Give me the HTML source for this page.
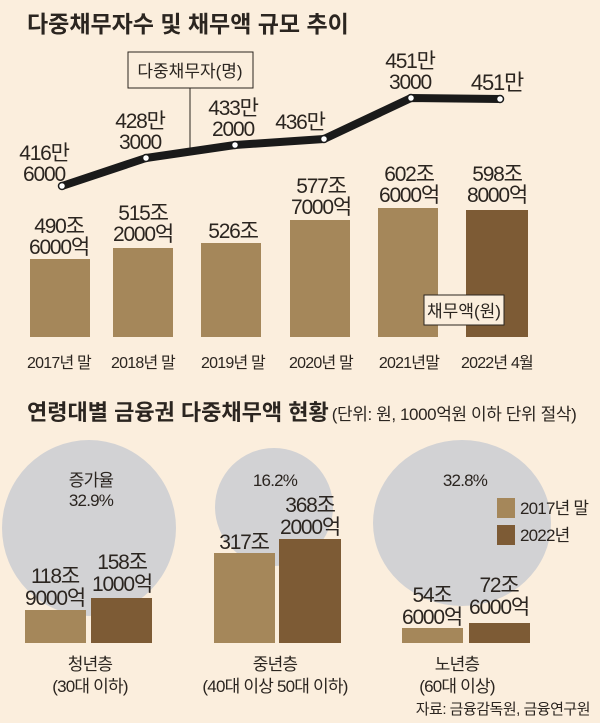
<!DOCTYPE html>
<html><head><meta charset="utf-8"><style>
body{margin:0;background:#fbeedd}
svg{display:block}
text{font-family:"Liberation Sans","Noto Sans CJK KR",sans-serif;fill:#2b2520}
</style></head><body>
<svg width="600" height="723" viewBox="0 0 600 723" xmlns="http://www.w3.org/2000/svg">
<rect width="600" height="723" fill="#fbeedd"/>
<text x="27" y="32" font-size="23" font-weight="bold">다중채무자수 및 채무액 규모 추이</text>
<g fill="#a5875a">
<rect x="30" y="259" width="60" height="78"/>
<rect x="113" y="248" width="60" height="89"/>
<rect x="201" y="243" width="60" height="94"/>
<rect x="290" y="220" width="60" height="117"/>
<rect x="378" y="208" width="60" height="129"/>
</g>
<rect x="466" y="210" width="62" height="127" fill="#7d5b35"/>
<rect x="424" y="295" width="80" height="30" fill="#fbeedd" stroke="#2b2520" stroke-width="1"/>
<text x="464" y="317" font-size="17" text-anchor="middle">채무액(원)</text>
<rect x="128" y="52" width="125" height="36" fill="#fbeedd" stroke="#2b2520" stroke-width="1"/>
<text x="190" y="77" font-size="17" text-anchor="middle">다중채무자(명)</text>
<line x1="190" y1="88" x2="190" y2="152" stroke="#2b2520" stroke-width="1"/>
<polyline points="62,186 146,158 235,145 324,139 411,98 500,99" fill="none" stroke="#1a1a1a" stroke-width="8" stroke-linejoin="round"/>
<g fill="#fff" stroke="#1a1a1a" stroke-width="1.5">
<circle cx="62" cy="186" r="3.5"/><circle cx="146" cy="158" r="3.5"/><circle cx="235" cy="145" r="3.5"/><circle cx="324" cy="139" r="3.5"/><circle cx="411" cy="98" r="3.5"/><circle cx="500" cy="99" r="3.5"/>
</g>
<g font-size="21" text-anchor="middle" letter-spacing="-1.2">
<text x="44" y="160">416만</text><text x="44" y="181">6000</text>
<text x="140" y="128">428만</text><text x="140" y="149">3000</text>
<text x="233" y="115">433만</text><text x="233" y="136">2000</text>
<text x="300" y="129">436만</text>
<text x="410" y="68">451만</text><text x="410" y="89">3000</text>
<text x="497" y="90" font-size="22">451만</text>
<text x="59" y="233">490조</text><text x="59" y="254">6000억</text>
<text x="143" y="220">515조</text><text x="143" y="241">2000억</text>
<text x="233" y="238">526조</text>
<text x="321" y="193">577조</text><text x="321" y="214">7000억</text>
<text x="409" y="181">602조</text><text x="409" y="202">6000억</text>
<text x="497" y="181">598조</text><text x="497" y="202">8000억</text>
</g>
<g font-size="16" text-anchor="middle" letter-spacing="-0.8">
<text x="59" y="368">2017년 말</text>
<text x="143" y="368">2018년 말</text>
<text x="233" y="368">2019년 말</text>
<text x="321" y="368">2020년 말</text>
<text x="409" y="368">2021년말</text>
<text x="497" y="368">2022년 4월</text>
</g>
<text x="27" y="420" font-size="22" font-weight="bold">연령대별 금융권 다중채무액 현황<tspan font-size="17" font-weight="normal" dx="3" letter-spacing="-0.4">(단위: 원, 1000억원 이하 단위 절삭)</tspan></text>
<g fill="#d2d2d4">
<ellipse cx="89" cy="528" rx="87" ry="88"/>
<ellipse cx="274" cy="507" rx="59" ry="59"/>
<ellipse cx="462" cy="523" rx="89" ry="83"/>
</g>
<g fill="#a5875a">
<rect x="25" y="610" width="61" height="33"/>
<rect x="214" y="553" width="61" height="90"/>
<rect x="402" y="628" width="61" height="15"/>
<rect x="497" y="498" width="18" height="20"/>
</g>
<g fill="#7d5b35">
<rect x="91" y="598" width="61" height="45"/>
<rect x="279" y="539" width="62" height="104"/>
<rect x="469" y="623" width="61" height="20"/>
<rect x="497" y="525" width="18" height="20"/>
</g>
<g font-size="17" letter-spacing="-0.8">
<text x="520" y="514">2017년 말</text>
<text x="520" y="541">2022년</text>
</g>
<g font-size="17" text-anchor="middle" letter-spacing="-0.8">
<text x="91" y="486">증가율</text><text x="91" y="506">32.9%</text>
<text x="275" y="486">16.2%</text>
<text x="465" y="486">32.8%</text>
</g>
<g font-size="21" text-anchor="middle" letter-spacing="-1.2">
<text x="55" y="583">118조</text><text x="55" y="605">9000억</text>
<text x="122" y="569">158조</text><text x="122" y="591">1000억</text>
<text x="244" y="549">317조</text>
<text x="310" y="512">368조</text><text x="310" y="534">2000억</text>
<text x="432" y="602">54조</text><text x="432" y="624">6000억</text>
<text x="499" y="592">72조</text><text x="499" y="614">6000억</text>
</g>
<g font-size="17" text-anchor="middle" letter-spacing="-0.8">
<text x="90" y="670">청년층</text><text x="90" y="692">(30대 이하)</text>
<text x="275" y="670">중년층</text><text x="275" y="692">(40대 이상 50대 이하)</text>
<text x="457" y="670">노년층</text><text x="457" y="692">(60대 이상)</text>
</g>
<text x="590" y="714" font-size="15" text-anchor="end" letter-spacing="-0.5">자료: 금융감독원, 금융연구원</text>
</svg>
</body></html>
